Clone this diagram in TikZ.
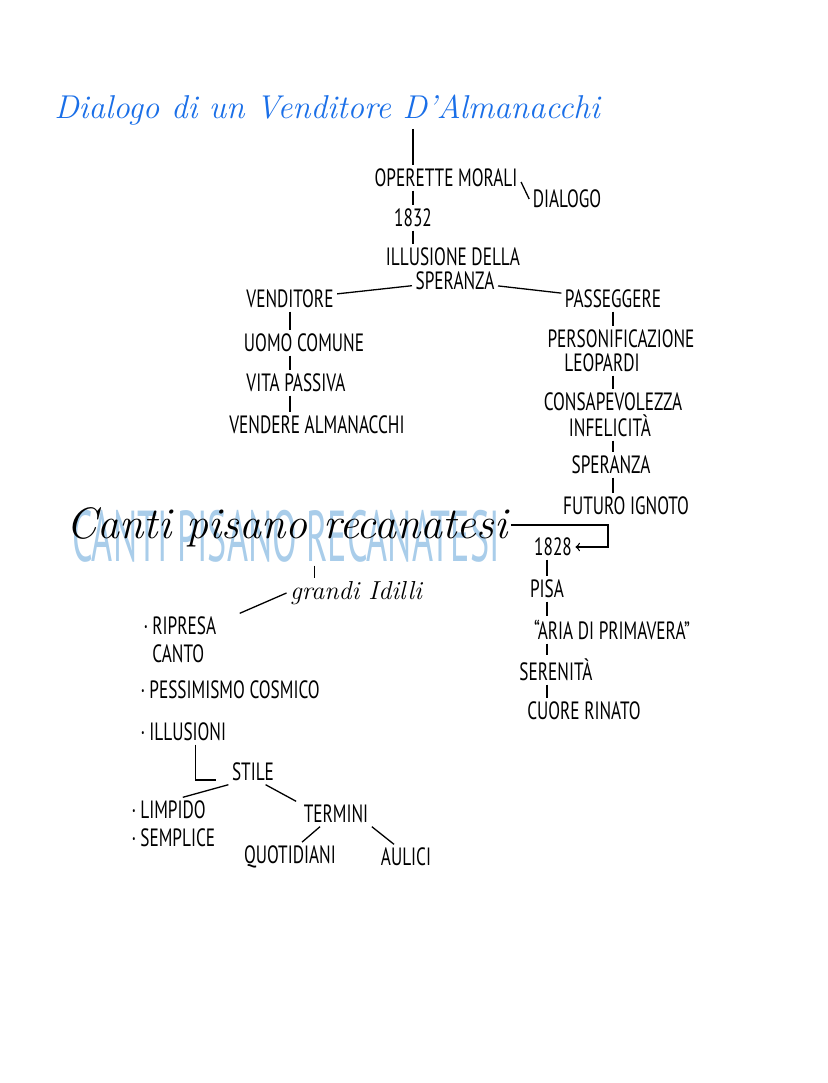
\documentclass[tikz,border=0pt]{standalone}
\usepackage{fontspec}
\usepackage{xcolor}
\usepackage{tikz}
\usetikzlibrary{arrows}
\newfontfamily\hand[FakeStretch=0.69]{PT Sans}
\newfontfamily\bighand[FakeStretch=0.5]{PT Sans}
\definecolor{titleblue}{HTML}{1A6FE8}
\definecolor{paleblue}{HTML}{A9CDEA}

\begin{document}
\begin{tikzpicture}[x=0.5pt, y=-0.5pt, line width=0.65pt,
  every node/.style={font=\hand\fontsize{12.5}{14}\selectfont, inner sep=1.5pt}]
  \useasboundingbox [fill=white] (0, 0) rectangle (828, 1083);
  \node [text=titleblue, font=\itshape\fontsize{16.5}{19}\selectfont] (T) at (327, 110) {Dialogo di un Venditore D'Almanacchi};
  \node (OM) at (446, 178) {OPERETTE MORALI};
  \node (DI) at (567, 199) {DIALOGO};
  \node (Y1) at (413, 218) {1832};
  \node (IL1) at (453, 257) {ILLUSIONE DELLA};
  \node (IL2) at (455, 281) {SPERANZA};
  \node (VE) at (290, 299) {VENDITORE};
  \node (PA) at (613, 299) {PASSEGGERE};
  \node (UC) at (304, 343) {UOMO COMUNE};
  \node (VP) at (296, 383) {VITA PASSIVA};
  \node (VA) at (317, 425) {VENDERE ALMANACCHI};
  \node (PL1) at (621, 339) {PERSONIFICAZIONE};
  \node (PL2) at (602, 363) {LEOPARDI};
  \node (CI1) at (613, 402) {CONSAPEVOLEZZA};
  \node (CI2) at (610, 426) {INFELICITÀ};
  \node (SP) at (611, 465) {SPERANZA};
  \node (FI) at (626, 506) {FUTURO IGNOTO};
  \node [text=paleblue, font=\bighand\fontsize{36}{38}\selectfont] (CB) at (286, 536) {CANTI PISANO RECANATESI};
  \node [font=\itshape\fontsize{22}{24}\selectfont] (CP) at (287, 527) {Canti pisano recanatesi};
  \coordinate (K) at (608, 525);
  \node (Y2) at (553, 547) {1828};
  \node (PI) at (547, 589) {PISA};
  \node (AR) at (612, 630) {“ARIA DI PRIMAVERA”};
  \node (SE) at (556, 670) {SERENITÀ};
  \node (CR) at (584, 711) {CUORE RINATO};
  \node [font=\itshape\fontsize{13}{14}\selectfont] (GI) at (356, 593) {grandi Idilli};
  \node [anchor=west, align=left] (RC) at (140, 640) {·\,RIPRESA\\\phantom{·\,}CANTO};
  \node [anchor=west] (PC) at (137, 690) {·\,PESSIMISMO COSMICO};
  \node [anchor=west] (IS) at (137, 732) {·\,ILLUSIONI};
  \node (ST) at (253, 772) {STILE};
  \node [anchor=west, align=left] (LS) at (128, 824) {·\,LIMPIDO\\·\,SEMPLICE};
  \node (TE) at (336, 814) {TERMINI};
  \node (QU) at (290, 857) {QUOTIDIANI};
  \node (AU) at (406, 857) {AULICI};
  % Dialogo
  \draw (T.south -| Y1) -- (OM.north -| Y1);
  \draw ([yshift=-2pt]OM.east) -- (DI.west);
  \draw (OM.south -| Y1) -- (Y1);
  \draw (Y1) -- (IL1.north -| Y1);
  \draw (IL2) -- (VE);
  \draw (IL2) -- (PA);
  \draw (VE) -- (VE |- UC.north);
  \draw (UC.south -| VE) -- (VP.north -| VE);
  \draw (VP.south -| VE) -- (VA.north -| VE);
  \draw (PA) -- (PA |- PL1.north);
  \draw (PL2.south -| PA) -- (CI1.north -| PA);
  \draw (CI2.south -| PA) -- (SP.north -| PA);
  \draw (SP.south -| PA) -- (FI.north -| PA);
  % canti pisano recanatesi
  \draw [->] (CP.east |- K) -- (K) |- (Y2);
  \draw (Y2.south -| PI) -- (PI);
  \draw (PI) -- (AR.north -| PI);
  \draw (AR.south -| PI) -- (SE.north -| PI);
  \draw (SE.south -| PI) -- (CR.north -| PI);
  \draw ([xshift=14pt]GI.north west |- CB.south) -- ([xshift=14pt]GI.north west);
  \draw (GI.west) -- ([xshift=10pt]RC.north east);
  \draw ([xshift=6pt]IS.south) |- ([xshift=-6pt, yshift=-4pt]ST.west);
  \draw (ST.south west) -- ([xshift=-18pt]LS.north east);
  \draw ([xshift=-6pt]ST.south east) -- ([xshift=-2pt]TE.north west);
  \draw ([xshift=-8pt]TE.south) -- ([xshift=6pt]QU.north);
  \draw (TE.south east) -- ([xshift=-6pt]AU.north);
\end{tikzpicture}
\end{document}
